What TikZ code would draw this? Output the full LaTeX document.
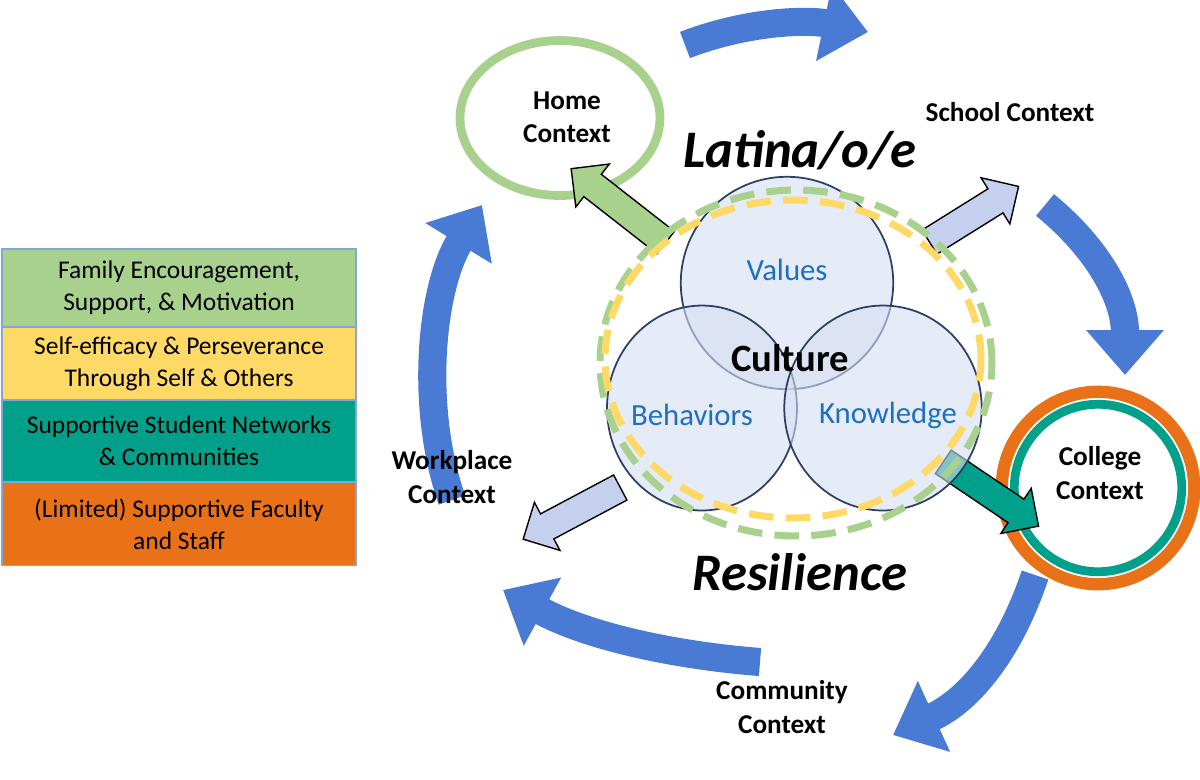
\documentclass[tikz,border=0pt]{standalone}
\usepackage{fontspec}
\setmainfont{Carlito}
\usetikzlibrary{arrows.meta,shapes.arrows,shapes.geometric}
\definecolor{lgreen}{HTML}{A9D18E}
\definecolor{lyellow}{HTML}{FFD966}
\definecolor{lteal}{HTML}{00A08A}
\definecolor{lorange}{HTML}{E97117}
\definecolor{lborder}{HTML}{7FA7D8}
\definecolor{bigblue}{HTML}{4A7BD4}
\definecolor{vblue}{HTML}{1F6FC0}
\definecolor{vfill}{HTML}{D4DEF2}
\definecolor{vedge}{HTML}{2E3F66}
\definecolor{pale}{HTML}{C5D0EE}
\begin{document}
\begin{tikzpicture}[x=0.02cm,y=-0.02cm,
  legend/.style={draw=lborder,line width=1pt,minimum width=7.08cm,minimum height=1.56cm,align=center,font=\fontsize{14.5}{18}\selectfont,inner sep=0pt},
  ctx/.style={font=\bfseries\fontsize{15.5}{19}\selectfont,align=center},
  vtext/.style={text=vblue,font=\fontsize{17.5}{21}\selectfont},
  bigarrow/.style={bigblue,line width=16pt,-{Triangle[length=0.9cm,width=1.5cm]}},
  blockarr/.style={single arrow,draw=black,line width=0.8pt,minimum height=#1,single arrow head extend=0.26cm,inner sep=0.27cm},
  venn/.style={draw=vedge,line width=1pt,fill=vfill,fill opacity=0.6}]
\useasboundingbox (0,0) rectangle (1200,779);
% legend
\node[legend,fill=lgreen] (l1) at (179,288) {Family Encouragement,\\Support, \& Motivation};
\node[legend,fill=lyellow,minimum height=1.46cm] (l2) at (179,364) {Self-efficacy \& Perseverance\\Through Self \& Others};
\node[legend,fill=lteal,minimum height=1.64cm] (l3) at (179,441) {Supportive Student Networks\\\& Communities};
\node[legend,fill=lorange,minimum height=1.66cm] (l4) at (179,524) {(Limited) Supportive Faculty\\and Staff};
% big blue arrows
\draw[bigarrow] (685,45) .. controls (750,20) and (810,20) .. (868,32);
\draw[bigarrow] (1045,205) .. controls (1100,250) and (1125,300) .. (1125,375);
\draw[bigarrow] (1035,575) .. controls (1010,650) and (970,700) .. (893,735);
\draw[bigarrow] (760,662) .. controls (670,655) and (585,635) .. (503,590);
\draw[bigarrow] (452,500) .. controls (420,410) and (430,290) .. (482,205);
% context nodes
\node[draw=lgreen,line width=5pt,ellipse,minimum width=4.0cm,minimum height=3.1cm] (home) at (560,118) {};
\node[ctx] (homet) at (567,117) {Home\\Context};
\node[ctx] (school) at (1010,112) {School Context};
\node[ctx] (work) at (452,477) {Workplace\\Context};
\node[ctx] (comm) at (782,707) {Community\\Context};
\node[circle,draw=lorange,line width=7pt,minimum size=3.85cm] (college) at (1098,488) {};
\node[circle,draw=lteal,line width=5pt,minimum size=3.35cm] (collegein) at (1098,488) {};
\node[ctx] (collegt) at (1100,473) {College\\Context};
% block arrows
\node[blockarr=2.4cm,fill=lgreen,rotate=142] (ga) at (624,210) {};
\node[blockarr=2.1cm,fill=pale,rotate=32] (pa1) at (968,218) {};
\node[blockarr=2.2cm,fill=pale,rotate=-152] (pa2) at (578,510) {};
\node[blockarr=2.3cm,fill=lteal,rotate=-34] (ta) at (985,490) {};
% venn
\node[venn,circle,minimum size=4.25cm] (values) at (787,283) {};
\node[venn,ellipse,minimum width=3.8cm,minimum height=4.1cm] (beh) at (702,408) {};
\node[venn,ellipse,minimum width=3.95cm,minimum height=4.1cm] (know) at (883,408) {};
% dashed
\node[draw=lgreen,dash pattern=on 14pt off 7pt,line width=4pt,ellipse,minimum width=7.84cm,minimum height=6.92cm] (gring) at (796,363) {};
\node[draw=lyellow,dash pattern=on 14pt off 7pt,line width=4pt,ellipse,minimum width=7.52cm,minimum height=6.36cm] (yring) at (793,359) {};
% texts
\node[vtext] (vt) at (787,270) {Values};
\node[vtext] (bt) at (692,415) {Behaviors};
\node[vtext] (kt) at (888,415) {Knowledge};
\node[font=\bfseries\fontsize{22}{26}\selectfont] (cult) at (790,358) {Culture};
\node[font=\bfseries\itshape\fontsize{30}{34}\selectfont] (lat) at (800,150) {Latina/o/e};
\node[font=\bfseries\itshape\fontsize{30}{34}\selectfont] (res) at (800,572) {Resilience};
\end{tikzpicture}
\end{document}
